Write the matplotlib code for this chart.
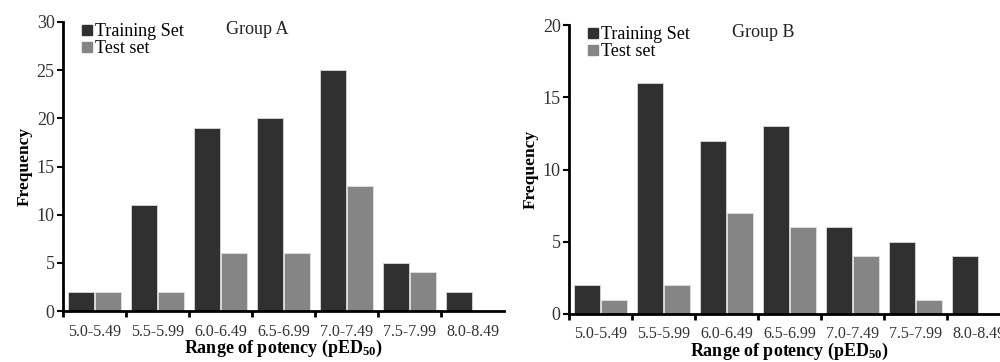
import matplotlib
matplotlib.use("Agg")
import matplotlib.pyplot as plt
import numpy as np
from matplotlib.lines import Line2D

plt.rcParams['font.family'] = ['Liberation Serif', 'DejaVu Serif']
plt.rcParams['mathtext.fontset'] = 'custom'
plt.rcParams['mathtext.rm'] = 'Liberation Serif'
plt.rcParams['mathtext.bf'] = 'Liberation Serif:bold'
plt.rcParams['mathtext.it'] = 'Liberation Serif:italic'

categories = ["5.0-5.49", "5.5-5.99", "6.0-6.49", "6.5-6.99", "7.0-7.49", "7.5-7.99", "8.0-8.49"]
train_A = [2, 11, 19, 20, 25, 5, 2]
test_A = [2, 2, 6, 6, 13, 4, 0]
train_B = [2, 16, 12, 13, 6, 5, 4]
test_B = [1, 2, 7, 6, 4, 1, 0]
yticks_A = [0, 5, 10, 15, 20, 25, 30]
yticks_B = [0, 5, 10, 15, 20]
titles = ["Group A", "Group B"]

TRAIN_C = "#303030"
TEST_C = "#858585"

fig = plt.figure(figsize=(10, 3.62), dpi=100)
H = 362.0
W = 1000.0

def make_ax(x0, y_top, y_bot, width):
    return fig.add_axes([x0 / W, 1 - y_bot / H, width / W, (y_bot - y_top) / H])

axA = make_ax(63, 22, 311, 441)
axB = make_ax(569, 25, 314, 441)

def draw(ax, train, test, yticks, title):
    x = np.arange(len(categories))
    w = 0.42
    ax.bar(x - 0.215, train, width=w, color=TRAIN_C, edgecolor="#d0d0d0", linewidth=0.7, zorder=2)
    ax.bar(x + 0.215, [v if v > 0 else np.nan for v in test], width=w, color=TEST_C,
           edgecolor="#dcdcdc", linewidth=0.7, zorder=2)
    ax.set_xlim(-0.5, len(categories) - 0.5)
    ax.set_ylim(0, yticks[-1])
    ax.set_yticks(yticks)
    ax.set_xticks(x)
    ax.set_xticklabels(categories, fontsize=11.5, color="#333333")
    ax.set_xticks(np.arange(len(categories)) - 0.5, minor=True)
    ax.tick_params(axis="x", which="major", length=0, pad=9)
    ax.tick_params(axis="x", which="minor", length=4, width=2, direction="out")
    ax.tick_params(axis="y", length=4, width=1.5, direction="out", labelsize=13, pad=2,
                   labelcolor="#333333")
    for s in ["top", "right"]:
        ax.spines[s].set_visible(False)
    ax.spines["left"].set_linewidth(2)
    ax.spines["bottom"].set_linewidth(2)
    ax.set_xlabel("Range of potency (pED$_{\\mathbf{50}}$)", fontsize=13, fontweight="bold", labelpad=-1)
    ax.set_ylabel("Frequency", fontsize=12.5, fontweight="bold", labelpad=3)
    handles = [Line2D([], [], marker="s", linestyle="none", color=TRAIN_C, markersize=7),
               Line2D([], [], marker="s", linestyle="none", color=TEST_C, markersize=7)]
    ax.legend(handles, ["Training Set", "Test set"], loc="upper left", bbox_to_anchor=(0.025, 1.02),
              frameon=False, fontsize=13, handlelength=0.6, handletextpad=0.15,
              labelspacing=0.0, borderaxespad=0)
    ax.text(0.37, 0.975, title, transform=ax.transAxes, fontsize=13, va="center", ha="left",
            color="#222222")

draw(axA, train_A, test_A, yticks_A, titles[0])
draw(axB, train_B, test_B, yticks_B, titles[1])

fig.savefig("out.png", dpi=100)
